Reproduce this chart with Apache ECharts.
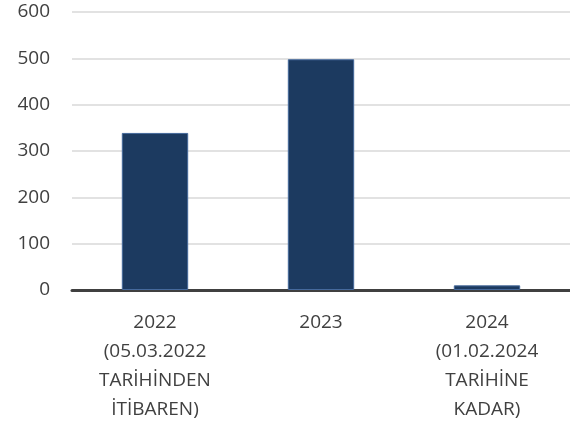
<!DOCTYPE html>
<html><head><meta charset="utf-8">
<script src="https://cdn.jsdelivr.net/npm/echarts@6/dist/echarts.min.js"></script>
<style>html,body{margin:0;padding:0;background:#fff}#c{width:570px;height:428px}</style>
</head><body><div id="c"></div>
<script>
const categories = ['2022\n(05.03.2022\nTARİHİNDEN\nİTİBAREN)', '2023', '2024\n(01.02.2024\nTARİHİNE\nKADAR)'];
const values = [339, 498, 10];
const yTicks = [0, 100, 200, 300, 400, 500, 600];

const chart = echarts.init(document.getElementById('c'), null, {renderer: 'canvas'});
chart.setOption({
  animation: false,
  grid: {left: 72, right: 0, top: 12, bottom: 138, containLabel: false},
  xAxis: {
    type: 'category', data: categories,
    axisLine: {lineStyle: {color: '#404040', width: 3}},
    axisTick: {show: false},
    axisLabel: {color: '#404040', fontFamily: 'Open Sans', fontSize: 19, lineHeight: 29, margin: 18, interval: 0}
  },
  yAxis: {
    type: 'value', min: yTicks[0], max: yTicks[yTicks.length - 1], interval: 100,
    axisLine: {show: false}, axisTick: {show: false},
    splitLine: {lineStyle: {color: '#d9d9d9', width: 1.5}},
    axisLabel: {color: '#404040', fontFamily: 'Open Sans', fontSize: 19, margin: 22}
  },
  series: [{
    type: 'bar', data: values, barWidth: '40%',
    itemStyle: {color: '#1c3a60', borderColor: '#45699c', borderWidth: 1}
  }]
});
</script></body></html>
